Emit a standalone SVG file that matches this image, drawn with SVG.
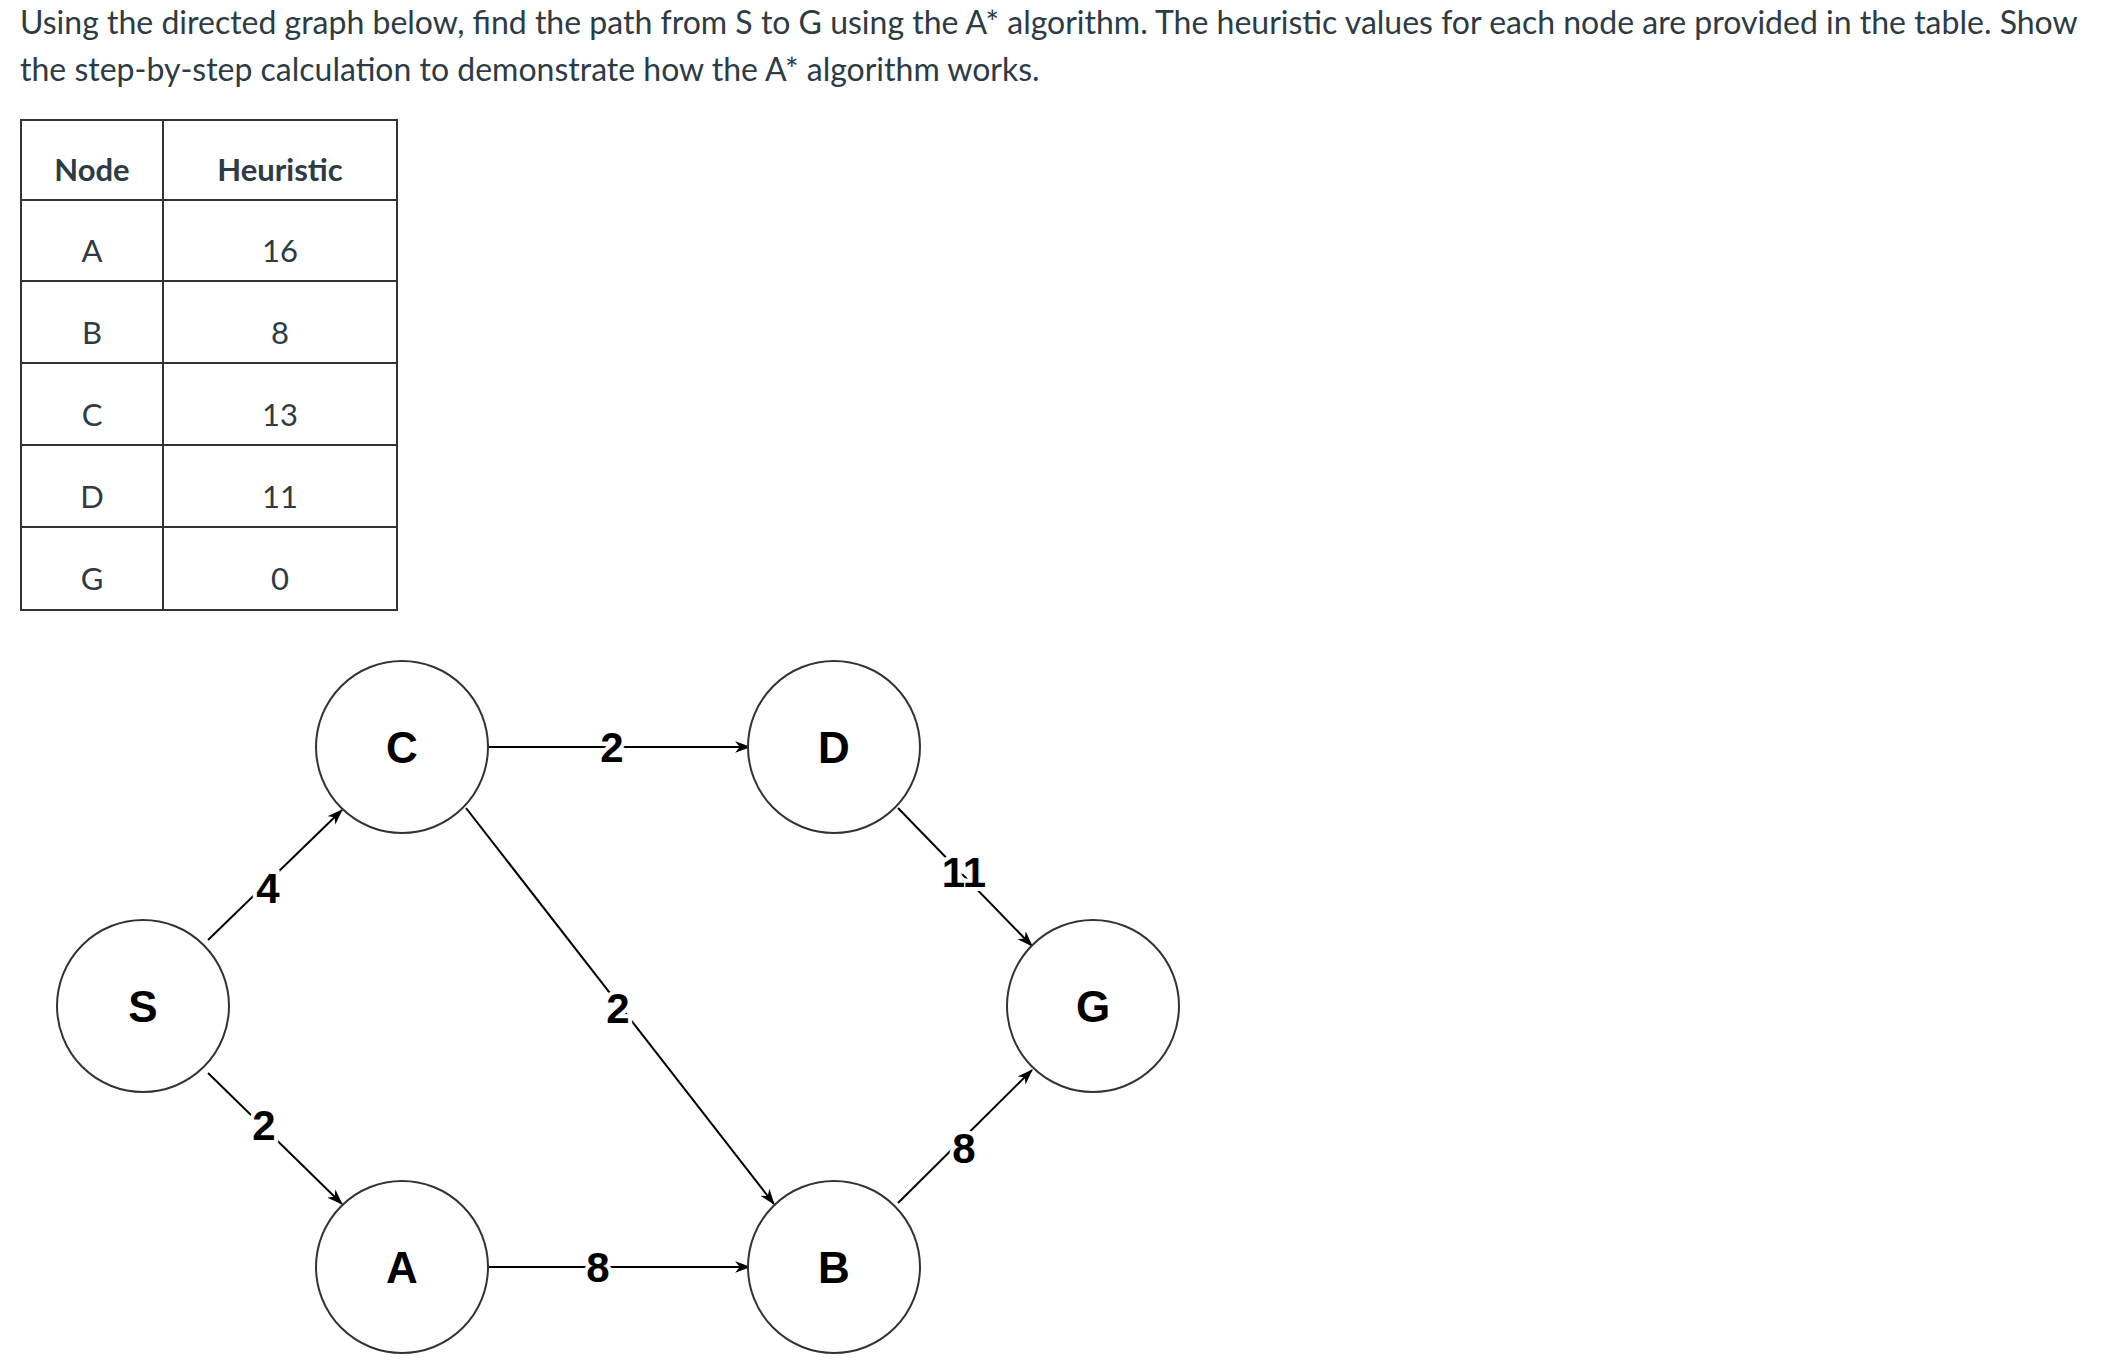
<svg xmlns="http://www.w3.org/2000/svg" width="2104" height="1369" viewBox="0 0 2104 1369">
<style>
.t{font-family:Lato,"Open Sans",sans-serif;font-size:32px;fill:#2d3b45}
.c{font-family:Lato,"Open Sans",sans-serif;font-size:31px;fill:#2d3b45;text-anchor:middle}
.h{font-weight:bold}
.n{fill:#fff;stroke:#333;stroke-width:2}
.nl{font-family:"Liberation Sans",Arial,sans-serif;font-weight:bold;font-size:44px;text-anchor:middle;fill:#000}
.e{stroke:#000;stroke-width:2;fill:none;marker-end:url(#a)}
.el{font-family:"Liberation Sans",Arial,sans-serif;font-weight:bold;font-size:42px;text-anchor:middle;fill:#000;stroke:#fff;stroke-width:8;paint-order:stroke}
.g{stroke:#333;stroke-width:2}
</style>
<defs><marker id="a" viewBox="0 0 14 10" refX="13" refY="5" markerWidth="16" markerHeight="12" orient="auto" markerUnits="userSpaceOnUse"><path d="M0,0 L14,5 L0,10 L4,5 Z" fill="#000"/></marker></defs>
<rect width="2104" height="1369" fill="#fff"/>
<text class="t" x="20" y="34">Using the directed graph below, find the path from S to G using the A* algorithm. The heuristic values for each node are provided in the table. Show</text>
<text class="t" x="20" y="81">the step-by-step calculation to demonstrate how the A* algorithm works.</text>
<g id="table">
<rect x="21" y="120" width="376" height="490" fill="none" class="g"/>
<line class="g" x1="163" y1="120" x2="163" y2="610"/>
<line class="g" x1="21" y1="200" x2="397" y2="200"/>
<line class="g" x1="21" y1="281" x2="397" y2="281"/>
<line class="g" x1="21" y1="363" x2="397" y2="363"/>
<line class="g" x1="21" y1="445" x2="397" y2="445"/>
<line class="g" x1="21" y1="527" x2="397" y2="527"/>
<text class="c h" x="92" y="181">Node</text><text class="c h" x="280" y="181">Heuristic</text>
<text class="c" x="92" y="262">A</text><text class="c" x="280" y="262">16</text>
<text class="c" x="92" y="344">B</text><text class="c" x="280" y="344">8</text>
<text class="c" x="92" y="426">C</text><text class="c" x="280" y="426">13</text>
<text class="c" x="92" y="508">D</text><text class="c" x="280" y="508">11</text>
<text class="c" x="92" y="590">G</text><text class="c" x="280" y="590">0</text>
</g>
<g id="edges">
<line class="e" x1="208" y1="940" x2="342" y2="810"/><text class="el" x="268" y="903">4</text>
<line class="e" x1="208" y1="1073" x2="342" y2="1204"/><text class="el" x="264" y="1140">2</text>
<line class="e" x1="488" y1="747" x2="750" y2="747"/><text class="el" x="612" y="762">2</text>
<line class="e" x1="466" y1="808" x2="774" y2="1204"/><text class="el" x="618" y="1023">2</text>
<line class="e" x1="898" y1="808" x2="1032" y2="946"/><text class="el" x="964" y="887">11</text>
<line class="e" x1="488" y1="1267" x2="750" y2="1267"/><text class="el" x="598" y="1282">8</text>
<line class="e" x1="898" y1="1203" x2="1032" y2="1070"/><text class="el" x="964" y="1163">8</text>
</g>
<g id="C"><circle class="n" cx="402" cy="747" r="86"/><text class="nl" x="402" y="763">C</text></g>
<g id="D"><circle class="n" cx="834" cy="747" r="86"/><text class="nl" x="834" y="763">D</text></g>
<g id="S"><circle class="n" cx="143" cy="1006" r="86"/><text class="nl" x="143" y="1022">S</text></g>
<g id="G"><circle class="n" cx="1093" cy="1006" r="86"/><text class="nl" x="1093" y="1022">G</text></g>
<g id="A"><circle class="n" cx="402" cy="1267" r="86"/><text class="nl" x="402" y="1283">A</text></g>
<g id="B"><circle class="n" cx="834" cy="1267" r="86"/><text class="nl" x="834" y="1283">B</text></g>
</svg>
